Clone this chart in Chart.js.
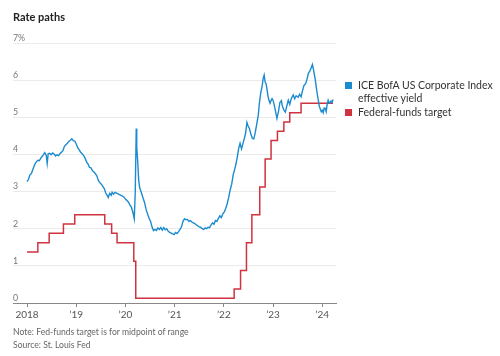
<!DOCTYPE html>
<html>
<head>
<meta charset="utf-8">
<script src="https://cdn.jsdelivr.net/npm/chart.js@4"></script>
<style>
  html, body { margin:0; padding:0; background:#fff; }
  body { width:500px; height:356px; position:relative; overflow:hidden; font-family: Lato, "Noto Sans", sans-serif; }
  #wrap { position:absolute; left:0; top:0; width:500px; height:356px; }
  .title { position:absolute; left:13px; top:10px; font-size:11px; font-weight:bold; color:#222; }
  .note { position:absolute; left:13px; font-size:8.6px; color:#666; }
  .legend { position:absolute; left:345px; top:79px; font-size:10.5px; color:#333; line-height:12.5px; }
  .legend .item { position:relative; padding-left:13px; margin-bottom:2px; }
  .legend .sw { position:absolute; left:0; top:3px; width:7px; height:7px; }
</style>
</head>
<body>
<div id="wrap"><canvas id="c" width="500" height="356"></canvas></div>
<div class="title">Rate paths</div>
<div class="legend">
  <div class="item"><span class="sw" style="background:#1b8bcf"></span>ICE BofA US Corporate Index<br>effective yield</div>
  <div class="item"><span class="sw" style="background:#cf3340"></span>Federal-funds target</div>
</div>
<div class="note" style="top:327px">Note: Fed-funds target is for midpoint of range</div>
<div class="note" style="top:340px">Source: St. Louis Fed</div>
<script>
// ---- data ----
const yearTicks = [2018, 2019, 2020, 2021, 2022, 2023, 2024];
const yTicks = [0, 1, 2, 3, 4, 5, 6, 7];

const fedDates = [2018.00, 2018.22, 2018.45, 2018.74, 2018.97, 2019.58, 2019.72, 2019.83, 2020.17, 2020.21,
  2022.21, 2022.34, 2022.46, 2022.57, 2022.73, 2022.84, 2022.96, 2023.09, 2023.22, 2023.34, 2023.57, 2024.22];
const fedValues = [1.375, 1.625, 1.875, 2.125, 2.375, 2.125, 1.875, 1.625, 1.125, 0.125,
  0.375, 0.875, 1.625, 2.375, 3.125, 3.875, 4.375, 4.625, 4.875, 5.125, 5.375, 5.375];

const iceDates = [
  2018.00,2018.03,2018.06,2018.09,2018.12,2018.16,2018.19,2018.22,2018.25,2018.28,2018.31,2018.33,2018.36,2018.39,2018.41,2018.43,2018.46,2018.49,2018.52,2018.55,
  2018.58,2018.61,2018.64,2018.67,2018.70,2018.73,2018.76,2018.79,2018.82,2018.85,2018.88,2018.91,2018.94,2018.97,2019.00,2019.03,2019.06,2019.09,2019.12,2019.15,
  2019.18,2019.21,2019.24,2019.27,2019.30,2019.33,2019.36,2019.39,2019.42,2019.45,2019.48,2019.51,2019.54,2019.57,2019.60,2019.63,2019.65,2019.68,2019.71,2019.73,
  2019.76,2019.79,2019.82,2019.85,2019.88,2019.91,2019.94,2019.97,2020.00,2020.03,2020.06,2020.09,2020.12,2020.15,2020.18,2020.20,2020.22,2020.23,2020.25,2020.27,
  2020.29,2020.31,2020.33,2020.36,2020.39,2020.42,2020.45,2020.48,2020.51,2020.54,2020.57,2020.60,2020.63,2020.66,2020.69,2020.72,2020.75,2020.78,2020.81,2020.84,
  2020.87,2020.90,2020.93,2020.96,2020.99,2021.02,2021.05,2021.08,2021.11,2021.14,2021.17,2021.20,2021.23,2021.26,2021.29,2021.32,2021.35,2021.38,2021.41,2021.44,
  2021.47,2021.50,2021.53,2021.56,2021.59,2021.62,2021.65,2021.68,2021.71,2021.74,2021.77,2021.80,2021.83,2021.86,2021.89,2021.92,2021.95,2021.98,2022.01,2022.04,
  2022.07,2022.10,2022.13,2022.16,2022.19,2022.21,2022.24,2022.27,2022.30,2022.33,2022.36,2022.38,2022.41,2022.44,2022.47,2022.49,2022.52,2022.55,2022.58,2022.61,
  2022.64,2022.67,2022.70,2022.72,2022.75,2022.78,2022.80,2022.82,2022.84,2022.86,2022.88,2022.90,2022.92,2022.94,2022.96,2022.98,2023.00,2023.03,2023.06,2023.08,
  2023.11,2023.14,2023.17,2023.19,2023.22,2023.25,2023.28,2023.31,2023.34,2023.37,2023.41,2023.44,2023.47,2023.51,2023.54,2023.57,2023.60,2023.63,2023.66,2023.69,
  2023.72,2023.75,2023.78,2023.80,2023.82,2023.84,2023.86,2023.88,2023.90,2023.92,2023.94,2023.96,2023.98,2024.00,2024.02,2024.04,2024.06,2024.08,2024.10,2024.12,
  2024.14,2024.16,2024.18,2024.20,2024.22];
const iceValues = [
  3.27,3.33,3.45,3.49,3.60,3.74,3.80,3.84,3.83,3.90,3.95,3.98,4.05,3.98,3.76,4.02,4.03,3.99,4.04,4.01,
  3.96,3.99,3.97,4.02,4.06,4.10,4.22,4.26,4.30,4.35,4.38,4.42,4.37,4.36,4.28,4.18,4.12,4.06,4.02,3.97,
  3.90,3.80,3.74,3.65,3.64,3.56,3.53,3.48,3.42,3.30,3.24,3.20,3.14,3.08,2.96,2.90,2.84,2.95,2.90,2.98,
  2.93,2.98,2.96,2.94,2.92,2.90,2.88,2.85,2.80,2.76,2.72,2.64,2.58,2.45,2.27,3.00,4.70,4.20,3.80,3.30,
  3.10,3.03,2.95,2.82,2.70,2.52,2.40,2.28,2.20,2.05,1.95,1.98,1.95,2.02,1.98,2.03,1.96,2.03,1.97,2.00,
  1.93,1.90,1.88,1.86,1.84,1.90,1.87,1.92,1.98,2.05,2.20,2.27,2.24,2.25,2.20,2.22,2.18,2.16,2.14,2.10,
  2.08,2.05,2.04,2.00,1.98,2.02,2.00,2.04,2.03,2.10,2.16,2.12,2.22,2.20,2.28,2.35,2.30,2.40,2.45,2.55,
  2.68,2.85,3.05,3.20,3.45,3.55,3.70,3.90,4.15,4.30,4.15,4.25,4.40,4.55,4.86,4.78,4.70,4.55,4.43,4.42,
  4.60,4.82,5.05,5.35,5.65,5.85,6.05,6.14,5.95,5.90,5.73,5.55,5.45,5.38,5.45,5.50,5.46,5.30,5.10,4.97,
  5.15,5.40,5.45,5.30,5.20,5.14,5.30,5.46,5.35,5.50,5.60,5.50,5.58,5.54,5.62,5.55,5.72,5.86,5.90,6.02,
  6.19,6.25,6.35,6.42,6.30,6.15,6.00,5.80,5.62,5.46,5.30,5.22,5.15,5.19,5.12,5.25,5.24,5.15,5.35,5.46,
  5.38,5.40,5.44,5.40,5.48];

const blue = '#1b8bcf';
const red = '#cf3340';

const toPts = (xs, ys) => xs.map((x, i) => ({ x: x, y: ys[i] }));

new Chart(document.getElementById('c'), {
  type: 'line',
  data: {
    datasets: [
      { label: 'Federal-funds target', data: toPts(fedDates, fedValues), borderColor: red, borderWidth: 1.5,
        stepped: 'before', pointRadius: 0, fill: false, order: 2 },
      { label: 'ICE BofA US Corporate Index effective yield', data: toPts(iceDates, iceValues), borderColor: blue,
        borderWidth: 1.4, pointRadius: 0, tension: 0, fill: false, order: 1 }
    ]
  },
  options: {
    responsive: false,
    devicePixelRatio: 1,
    animation: false,
    layout: { padding: { left: 13, right: 164, top: 43, bottom: 33 } },
    plugins: { legend: { display: false }, tooltip: { enabled: false } },
    scales: {
      x: {
        type: 'linear', min: 2017.715, max: 2024.28,
        afterBuildTicks: (s) => { s.ticks = yearTicks.map(v => ({ value: v })); },
        ticks: {
          autoSkip: false, maxRotation: 0, padding: 2, color: '#555',
          font: { family: 'Lato, "Noto Sans", sans-serif', size: 10 },
          callback: (v) => v === 2018 ? '2018' : '\u2019' + String(v).slice(2)
        },
        grid: { drawOnChartArea: false, drawTicks: true, tickLength: 4, color: '#888' },
        border: { display: true, color: '#888', width: 1 }
      },
      y: {
        min: 0, max: 7,
        afterBuildTicks: (s) => { s.ticks = yTicks.map(v => ({ value: v })); },
        ticks: {
          mirror: true, padding: 0, labelOffset: -5, color: '#777',
          font: { family: 'Lato, "Noto Sans", sans-serif', size: 8.8 },
          callback: (v) => v === 7 ? '7%' : String(v)
        },
        grid: { color: (ctx) => ctx.tick && ctx.tick.value === 0 ? 'rgba(0,0,0,0)' : '#ebebeb', drawTicks: false, lineWidth: 1 },
        border: { display: false }
      }
    }
  }
});
</script>
</body>
</html>
